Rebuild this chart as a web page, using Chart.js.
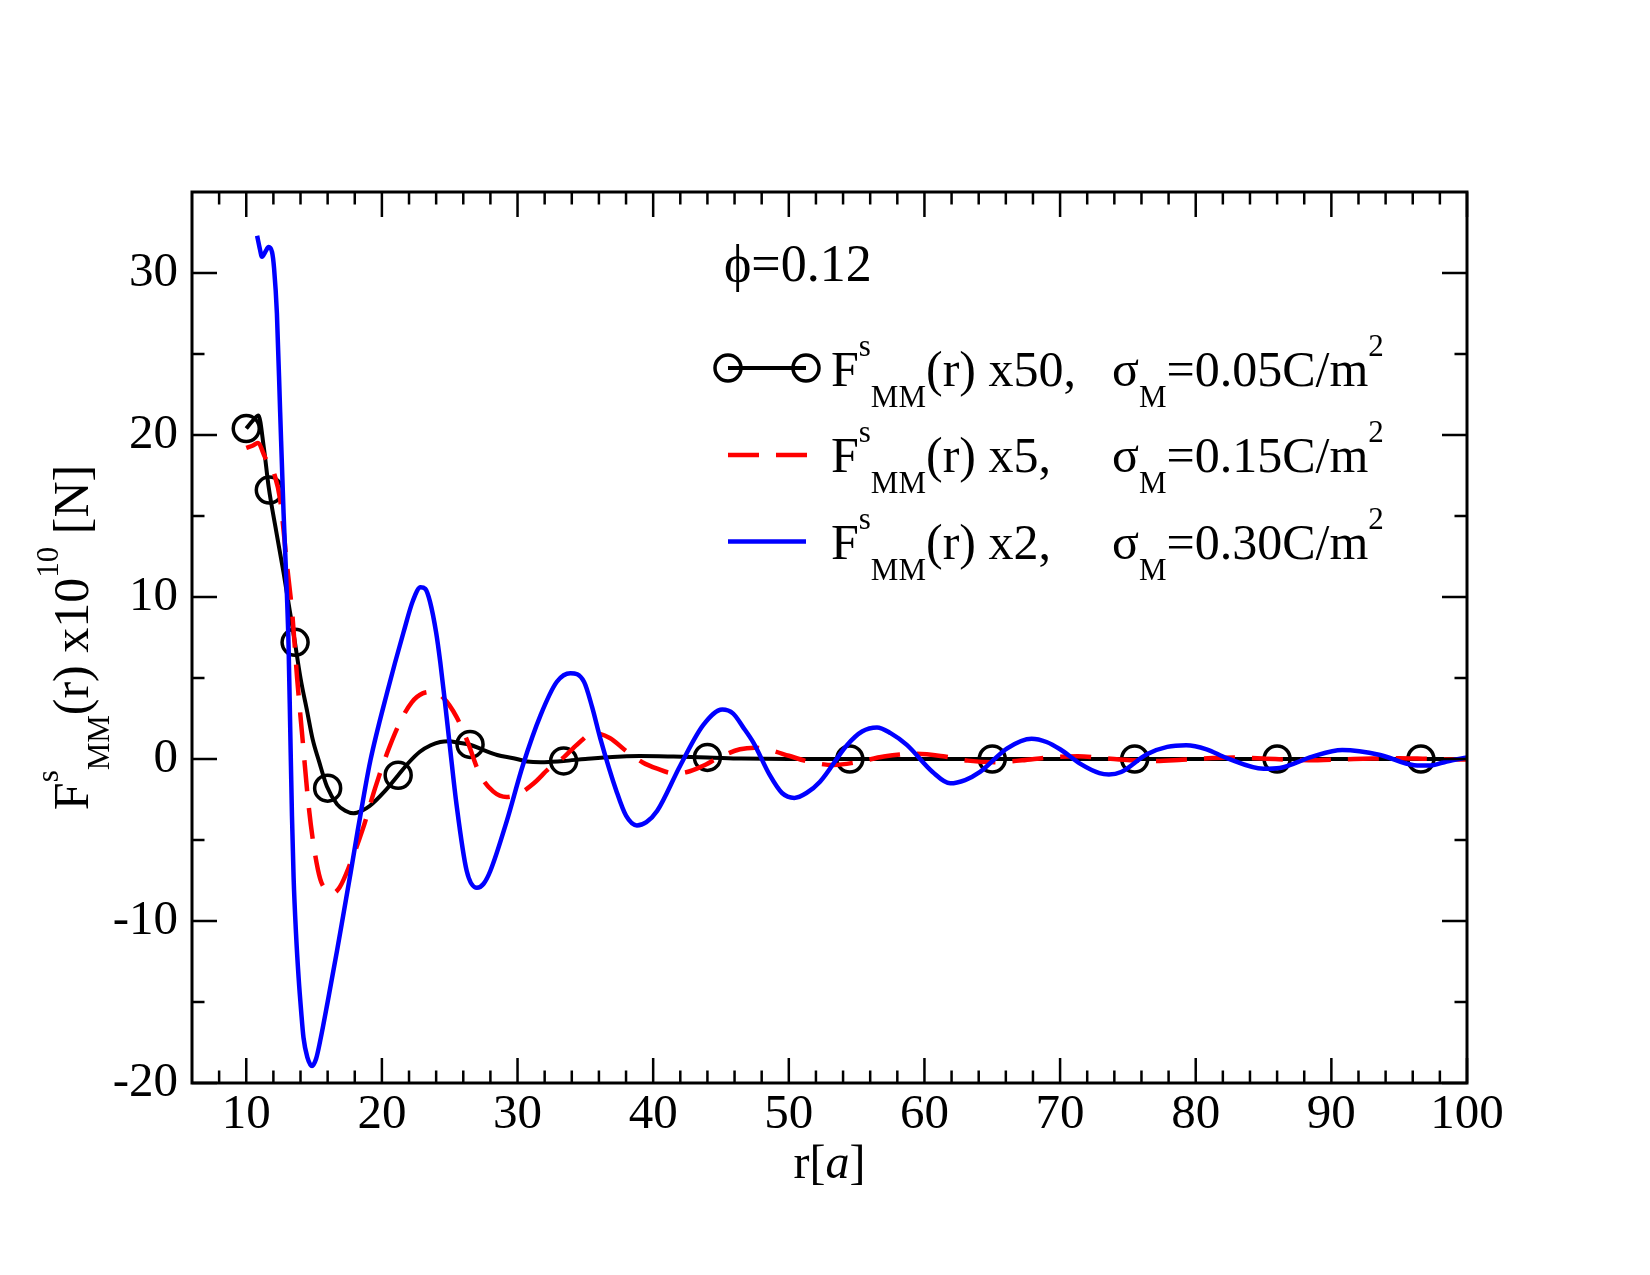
<!DOCTYPE html>
<html>
<head>
<meta charset="utf-8">
<script src="https://cdn.jsdelivr.net/npm/chart.js@4.4.1/dist/chart.umd.min.js"></script>
<style>
  html, body { margin: 0; padding: 0; background: #fff; }
  #wrap { width: 1650px; height: 1275px; }
</style>
</head>
<body>
<div id="wrap"><canvas id="chart"></canvas></div>
<script>
// sigma_M = 0.05 C/m^2, scaled x50 (black line)
const r50 = [10.0, 10.5, 10.9, 11.3, 11.65, 12.2, 12.75, 13.2, 13.55, 14.0,
             14.5, 14.9, 15.35, 15.95, 16.7, 17.3, 17.9, 18.5, 19.1, 20.2,
             21.2, 22.0, 22.8, 23.6, 24.3, 24.9, 25.7, 26.5, 27.5, 28.5,
             29.7, 30.7, 31.7, 32.5, 33.4, 35.0, 37.0, 39.0, 41.5, 44.0,
             46.5, 50, 55, 60, 65, 70, 75, 80, 85, 90, 95, 100];
const F50 = [20.4, 20.9, 21.2, 19.2, 16.8, 14.1, 11.5, 9.2, 7.4, 5.0,
             2.9, 1.2, -0.1, -1.7, -2.8, -3.2, -3.35, -3.2, -2.9, -2.0,
             -1.0, -0.2, 0.45, 0.85, 1.05, 1.1, 1.0, 0.88, 0.55, 0.25,
             0.05, -0.15, -0.2, -0.17, -0.12, 0.0, 0.13, 0.18, 0.15, 0.1,
             0.03, 0, 0, 0, 0, 0, 0, 0, 0, 0, 0, 0];
// circle symbols on the black curve
const r50Marks = [10.0, 11.7, 13.6, 16.0, 21.2, 26.5, 33.4, 44.0, 54.5, 65.0, 75.5, 86.0, 96.6];
const F50Marks = [20.4, 16.6, 7.2, -1.8, -1.0, 0.9, -0.12, 0.1, 0, 0, 0, 0, 0];

// sigma_M = 0.15 C/m^2, scaled x5 (red dashed)
const r15 = [10.0, 10.5, 10.85, 11.4, 12.1, 12.5, 13.0, 13.4, 13.75, 14.1,
             14.6, 15.0, 15.45, 15.9, 16.35, 16.9, 17.6, 18.6, 19.5, 20.4,
             21.35, 22.2, 23.0, 23.8, 24.5, 25.5, 26.3, 27.2, 28.2, 29.2,
             30.2, 31.2, 32.3, 33.4, 34.4, 35.6, 36.8, 38.0, 39.2, 40.3,
             41.5, 42.5, 43.6, 45.0, 46.4, 47.5, 48.6, 50.0, 51.4, 53.3,
             55.0, 57.0, 59.4, 61.5, 63.2, 65.2, 67.2, 69.2, 71.3, 73.3,
             75.2, 77.1, 79.0, 81.2, 83.2, 85.2, 87.2, 89.0, 91.0, 93.0,
             95.0, 97.0, 99.0, 100];
const F15 = [19.2, 19.35, 19.5, 18.6, 17.5, 16.0, 12.0, 8.9, 5.0, 1.7,
             -2.9, -5.5, -7.4, -8.1, -8.3, -7.9, -6.6, -4.3, -1.8, 0.4,
             2.3, 3.5, 4.05, 4.15, 3.8, 2.6, 1.1, -0.9, -2.0, -2.35,
             -2.1, -1.5, -0.6, 0.1, 0.9, 1.6, 1.3, 0.5, -0.2, -0.6,
             -0.88, -0.8, -0.45, 0.15, 0.6, 0.7, 0.55, 0.2, -0.15, -0.37,
             -0.2, 0.15, 0.33, 0.15, -0.1, -0.2, -0.08, 0.1, 0.17, 0.05,
             -0.07, -0.12, -0.04, 0.06, 0.09, 0.02, -0.05, -0.07, -0.02, 0.03,
             0.05, 0.01, -0.03, -0.03];

// sigma_M = 0.30 C/m^2, scaled x2 (blue)
const r30 = [10.8, 11.0, 11.16, 11.4, 11.65, 11.9, 12.05, 12.26, 12.5, 12.75,
             13.0, 13.12, 13.25, 13.37, 13.49, 13.67, 13.86, 14.05, 14.22, 14.5,
             14.85, 15.15, 15.45, 16.0, 16.7, 17.2, 17.7, 18.2, 18.7, 19.15,
             20.4, 21.6, 22.3, 22.85, 23.2, 23.55, 24.0, 24.3, 24.65, 25.0,
             25.5, 26.25, 27.0, 27.5, 28.0, 29.2, 30.4, 31.7, 32.9, 33.9,
             34.9, 35.5, 36.1, 37.3, 38.0, 38.8, 39.5, 40.3, 42.0, 43.7,
             45.1, 45.9, 46.6, 47.4, 48.6, 49.5, 50.4, 51.3, 52.3, 54.3,
             55.4, 56.5, 57.5, 58.7, 60.6, 61.9, 63.0, 64.1, 66.1, 67.9,
             69.0, 70.0, 71.5, 72.9, 73.6, 74.5, 76.4, 77.9, 79.3, 80.8,
             82.3, 85.0, 86.2, 88.6, 90.8, 93.6, 96.1, 97.3, 98.5, 100];
const F30 = [32.3, 31.5, 31.0, 31.3, 31.6, 31.3, 30.3, 27.5, 21.4, 15.2,
             10.1, 7.0, 1.5, -3.5, -7.3, -10.8, -13.5, -15.6, -17.2, -18.4,
             -18.95, -18.5, -17.4, -15.0, -11.8, -9.4, -7.0, -4.5, -2.1, -0.1,
             4.15, 7.84, 9.8, 10.6, 10.5, 9.7, 7.8, 6.0, 3.5, 0.87,
             -2.8, -6.9, -7.95, -7.7, -6.9, -3.85, -0.37, 2.71, 4.77, 5.3,
             4.77, 3.2, 1.28, -2.0, -3.5, -4.1, -3.9, -3.2, -0.4, 2.1,
             3.05, 2.8, 2.0, 1.0, -1.0, -2.1, -2.4, -2.1, -1.4, 0.87,
             1.7, 1.95, 1.6, 0.87, -0.8, -1.5, -1.3, -0.8, 0.66, 1.25,
             1.05, 0.6, -0.3, -0.87, -0.95, -0.8, 0.3, 0.75, 0.85, 0.6,
             0.05, -0.6, -0.55, 0.15, 0.55, 0.25, -0.38, -0.4, -0.15, 0.1];

const xMajorTicks = [10, 20, 30, 40, 50, 60, 70, 80, 90, 100];
const xMinorTicks = [8, 12, 14, 16, 18, 22, 24, 26, 28, 32, 34, 36, 38, 42, 44, 46, 48,
                     52, 54, 56, 58, 62, 64, 66, 68, 72, 74, 76, 78, 82, 84, 86, 88, 92, 94, 96, 98];
const yMajorTicks = [-20, -10, 0, 10, 20, 30];
const yMinorTicks = [-15, -5, 5, 15, 25];

// text pieces: [text, 'n' | 'sub' | 'sup', italic]
const phiLabel = [['ϕ=0.12', 'n']];
const legendNames = [
  [['F', 'n'], ['s', 'sup'], ['MM', 'sub'], ['(r) x50,', 'n']],
  [['F', 'n'], ['s', 'sup'], ['MM', 'sub'], ['(r) x5,', 'n']],
  [['F', 'n'], ['s', 'sup'], ['MM', 'sub'], ['(r) x2,', 'n']]
];
const legendSigma = [
  [['σ', 'n'], ['M', 'sub'], ['=0.05C/m', 'n'], ['2', 'sup']],
  [['σ', 'n'], ['M', 'sub'], ['=0.15C/m', 'n'], ['2', 'sup']],
  [['σ', 'n'], ['M', 'sub'], ['=0.30C/m', 'n'], ['2', 'sup']]
];
const yTitle = [['F', 'n'], ['s', 'sup'], ['MM', 'sub'], ['(r) x10', 'n'], ['10', 'sup'], [' [N]', 'n']];
const xTitle = [['r[', 'n'], ['a', 'n', true], [']', 'n']];

const FONT = '"Liberation Serif", "Times New Roman", serif';

function pts(xs, ys) {
    return xs.map((x, i) => ({ x: x, y: ys[i] }));
}

function richWidth(ctx, parts, size) {
    let w = 0;
    for (const [t, mode, it] of parts) {
        const s = mode === 'n' ? size : size * 0.62;
        ctx.font = (it ? 'italic ' : '') + s + 'px ' + FONT;
        w += ctx.measureText(t).width;
    }
    return w;
}

function richText(ctx, parts, x, y, size) {
    let cx = x;
    ctx.textBaseline = 'alphabetic';
    ctx.textAlign = 'left';
    for (const [t, mode, it] of parts) {
        const s = mode === 'n' ? size : size * 0.62;
        const dy = mode === 'sup' ? -size * 0.6 : (mode === 'sub' ? size * 0.42 : 0);
        ctx.font = (it ? 'italic ' : '') + s + 'px ' + FONT;
        ctx.fillText(t, cx, y + dy);
        cx += ctx.measureText(t).width;
    }
    return cx;
}

const framePlugin = {
    id: 'frame',
    afterDraw(chart) {
        const ctx = chart.ctx;
        const a = chart.chartArea;
        const xs = chart.scales.x, ys = chart.scales.y;
        ctx.save();
        ctx.strokeStyle = '#000';
        ctx.fillStyle = '#000';

        // box
        ctx.lineWidth = 3;
        ctx.strokeRect(a.left, a.top, a.right - a.left, a.bottom - a.top);

        // inward ticks on all four sides
        ctx.lineWidth = 2.5;
        ctx.beginPath();
        const tx = (vals, len) => vals.forEach(v => {
            const p = xs.getPixelForValue(v);
            ctx.moveTo(p, a.bottom); ctx.lineTo(p, a.bottom - len);
            ctx.moveTo(p, a.top); ctx.lineTo(p, a.top + len);
        });
        const ty = (vals, len) => vals.forEach(v => {
            const p = ys.getPixelForValue(v);
            ctx.moveTo(a.left, p); ctx.lineTo(a.left + len, p);
            ctx.moveTo(a.right, p); ctx.lineTo(a.right - len, p);
        });
        tx(xMajorTicks, 25); tx(xMinorTicks, 12.5);
        ty(yMajorTicks, 25); ty(yMinorTicks, 12.5);
        ctx.stroke();

        // phi annotation
        richText(ctx, phiLabel, 724, 281, 52);

        // legend symbols
        const lx0 = 728, lx1 = 806;
        ctx.lineWidth = 4;
        ctx.strokeStyle = '#000';
        ctx.beginPath(); ctx.moveTo(lx0, 368); ctx.lineTo(lx1, 368); ctx.stroke();
        ctx.lineWidth = 3.5;
        [lx0, lx1].forEach(cx => { ctx.beginPath(); ctx.arc(cx, 368, 13, 0, Math.PI * 2); ctx.stroke(); });

        ctx.lineWidth = 4.5;
        ctx.strokeStyle = '#ff0000';
        ctx.setLineDash([31, 17]);
        ctx.beginPath(); ctx.moveTo(lx0, 455); ctx.lineTo(lx0 + 79, 455); ctx.stroke();
        ctx.setLineDash([]);

        ctx.strokeStyle = '#0000ff';
        ctx.beginPath(); ctx.moveTo(lx0, 541.5); ctx.lineTo(lx1, 541.5); ctx.stroke();

        // legend text
        const base = [386, 472, 558.5];
        base.forEach((by, i) => {
            richText(ctx, legendNames[i], 831, by, 50);
            richText(ctx, legendSigma[i], 1112, by, 50);
        });

        // axis titles
        const xw = richWidth(ctx, xTitle, 48);
        richText(ctx, xTitle, (a.left + a.right) / 2 - xw / 2, 1178, 48);

        ctx.translate(88, (a.top + a.bottom) / 2);
        ctx.rotate(-Math.PI / 2);
        const yw = richWidth(ctx, yTitle, 50);
        richText(ctx, yTitle, -yw / 2, 0, 50);
        ctx.restore();
    }
};

new Chart(document.getElementById('chart'), {
    type: 'line',
    data: {
        datasets: [
            { label: 'x2', data: pts(r30, F30), borderColor: '#0000ff', borderWidth: 4.5, order: 0 },
            { label: 'x5', data: pts(r15, F15), borderColor: '#ff0000', borderWidth: 4.5,
              borderDash: [31, 17], order: 1 },
            { label: 'x50', data: pts(r50, F50), borderColor: '#000000', borderWidth: 4, order: 2 },
            { label: 'x50 symbols', data: pts(r50Marks, F50Marks), showLine: false,
              pointRadius: 13, pointBorderWidth: 3.5, pointBorderColor: '#000000',
              pointBackgroundColor: 'rgba(0,0,0,0)', order: 2 }
        ]
    },
    options: {
        responsive: true,
        maintainAspectRatio: false,
        animation: false,
        events: [],
        layout: { padding: { left: 0, top: 192, right: 183, bottom: 0 } },
        elements: {
            point: { radius: 0 },
            line: { cubicInterpolationMode: 'monotone', borderCapStyle: 'butt', borderJoinStyle: 'round' }
        },
        plugins: {
            legend: { display: false },
            tooltip: { enabled: false }
        },
        scales: {
            x: {
                type: 'linear', min: 6, max: 100,
                grid: { display: false, drawTicks: false },
                border: { display: false },
                ticks: { color: '#000', padding: 3, maxRotation: 0, autoSkip: false,
                         font: { family: FONT, size: 49 } },
                afterBuildTicks: s => { s.ticks = xMajorTicks.map(v => ({ value: v })); },
                afterFit: s => { s.height = 192; }
            },
            y: {
                type: 'linear', min: -20, max: 35,
                grid: { display: false, drawTicks: false },
                border: { display: false },
                ticks: { color: '#000', padding: 14, autoSkip: false,
                         font: { family: FONT, size: 49 } },
                afterBuildTicks: s => { s.ticks = yMajorTicks.map(v => ({ value: v })); },
                afterFit: s => { s.width = 192; }
            }
        }
    },
    plugins: [framePlugin]
});
</script>
</body>
</html>
